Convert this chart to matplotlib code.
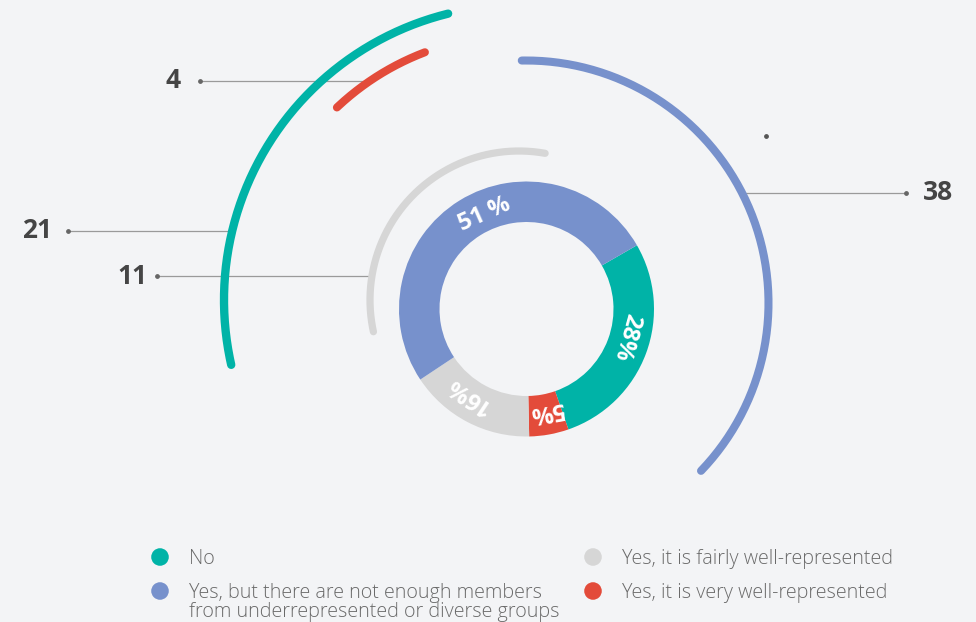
import numpy as np
import matplotlib
matplotlib.use("Agg")
import matplotlib.pyplot as plt

W, H = 976, 622

categories = [
    "No",
    "Yes, but there are not enough members\nfrom underrepresented or diverse groups",
    "Yes, it is fairly well-represented",
    "Yes, it is very well-represented",
]
shares = [28, 51, 16, 5]      # percent, shown on the ring
counts = [21, 38, 11, 4]      # respondents, shown next to the outer arcs
pct_sep = ["", " ", "", ""]

colors = ["#00b3a7", "#7791cc", "#d6d6d6", "#e34b3a"]
bg = "#f3f4f6"

# ring order, clockwise from the top right
ring_order = [0, 3, 2, 1]

# ring geometry (pixels, y measured from the top)
ring_cx, ring_cy = 526.5, 309
ring_r, ring_w = 127.5, 40.5
ring_start = 30
label_angles = [-15.5, 114, -123.6, -79.6]
label_r = 104

# outer arcs: centre, radius, start/end angle (deg)
arc_cx = [519, 526, 519, 519]
arc_cy = [300, 303, 300, 300]
arc_r = [295, 242.5, 149, 265]
arc_t1 = [103.9, -43.8, 79.9, 110.8]
arc_t2 = [192.7, 91.0, 192.3, 133.4]
arc_lw = [6.0, 5.8, 5.2, 5.8]

# leader lines: label y, label x, dot x, side of the arc
lead_y = [231, 192.7, 276, 80.7]
lead_tx = [37.3, 938.3, 132.3, 173.3]
lead_dx = [68.3, 905.7, 156.7, 200.0]
lead_side = [-1, 1, -1, -1]


def up(py):
    return H - py


fig = plt.figure(figsize=(W / 100, H / 100), dpi=100, facecolor=bg)
ax = fig.add_axes([0, 0, 1, 1])
ax.set_facecolor(bg)

wedges, _ = ax.pie(
    [shares[i] for i in ring_order],
    colors=[colors[i] for i in ring_order],
    startangle=ring_start,
    counterclock=False,
    radius=ring_r,
    center=(ring_cx, up(ring_cy)),
    wedgeprops=dict(width=ring_w, edgecolor="none", linewidth=0),
)

for i, a in enumerate(label_angles):
    t = np.radians(a)
    x = ring_cx + label_r * np.cos(t)
    y = up(ring_cy) + label_r * np.sin(t)
    ax.text(x, y, f"{shares[i]}{pct_sep[i]}%", rotation=a - 90,
            rotation_mode="anchor", ha="center", va="center",
            color="white", fontsize=17, fontweight="bold", family="Open Sans")

# outer arcs with leader lines
for i in range(len(categories)):
    t = np.radians(np.linspace(arc_t1[i], arc_t2[i], 200))
    cx, cy = arc_cx[i], up(arc_cy[i])
    ax.plot(cx + arc_r[i] * np.cos(t), cy + arc_r[i] * np.sin(t),
            color=colors[i], lw=arc_lw[i], solid_capstyle="round", zorder=3)

    y = up(lead_y[i])
    hit = cx + lead_side[i] * np.sqrt(arc_r[i] ** 2 - (y - cy) ** 2)
    ax.plot([lead_dx[i], hit], [y, y], color="#9a9a9a", lw=0.9, zorder=2)
    ax.scatter([lead_dx[i]], [y], s=6, color="#666666", zorder=4)
    ax.text(lead_tx[i], y, str(counts[i]), ha="center", va="center",
            fontsize=19, fontweight="bold", color="#454545", family="Open Sans")

ax.scatter([765.7], [up(135.7)], s=6, color="#555555", zorder=4)

# legend
leg_x = [160, 160, 593, 593]
leg_y = [557, 591, 557, 591]
for i, name in enumerate(categories):
    ax.scatter([leg_x[i]], [up(leg_y[i])], s=160, color=colors[i],
               edgecolor="none", zorder=4)
    ax.text(leg_x[i] + 29, up(leg_y[i]) + 8, name, ha="left", va="top",
            fontsize=14.2, color="#6a6a6a", family="Open Sans",
            fontweight="light", linespacing=0.94)

ax.set_xlim(0, W)
ax.set_ylim(0, H)
ax.set_aspect("equal")
ax.axis("off")

fig.savefig("out.png", dpi=100, facecolor=bg)
